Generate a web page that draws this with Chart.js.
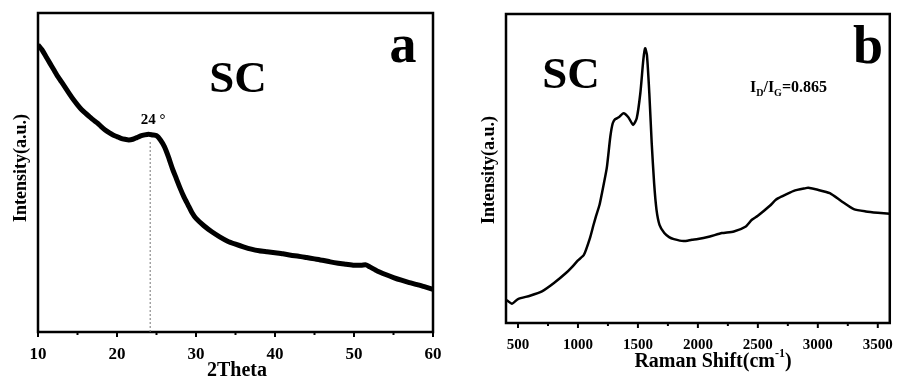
<!DOCTYPE html>
<html>
<head>
<meta charset="utf-8">
<script src="https://cdn.jsdelivr.net/npm/chart.js@4.4.0/dist/chart.umd.min.js"></script>
<style>
  html, body { margin: 0; padding: 0; background: #fff; }
  #wrap { position: relative; width: 898px; height: 378px; }
  canvas { position: absolute; top: 0; }
  #xrd { left: 0; }
  #raman { left: 449px; }
</style>
</head>
<body>
<div id="wrap">
  <canvas id="xrd" width="449" height="378"></canvas>
  <canvas id="raman" width="449" height="378"></canvas>
</div>
<script>
var SERIF = '"Liberation Serif", "Times New Roman", serif';

// panel a : XRD
var xrdTheta = [10, 10.5, 11, 11.5, 12, 12.5, 13, 13.5, 14, 14.5, 15, 15.5, 16, 16.5, 17, 17.5, 18, 18.5, 19, 19.5,
  20, 20.5, 21, 21.5, 22, 22.5, 23, 23.5, 24, 24.5, 25, 25.5, 26, 26.5, 27, 27.5, 28, 28.5, 29, 29.5,
  30, 31, 32, 33, 34, 35, 36, 37, 38, 39, 40, 41, 42, 43, 44, 45, 46, 47, 48, 49, 50, 51, 51.5, 52,
  53, 54, 55, 56, 57, 58, 59, 60];
var xrdIntensity = [860, 845, 825, 805, 785, 765, 748, 730, 712, 695, 680, 666, 655, 645, 635, 626, 615, 605, 597, 590,
  585, 580, 577, 575, 577, 582, 587, 590, 592, 590, 588, 575, 555, 525, 490, 460, 430, 403, 380, 357,
  340, 318, 300, 285, 272, 263, 255, 248, 243, 240, 237, 234, 230, 227, 223, 219, 215, 210, 206, 203, 200, 200, 201, 195,
  182, 172, 163, 155, 148, 142, 135, 128];
var xrdMajor = [10, 20, 30, 40, 50, 60];
var xrdMinor = [15, 25, 35, 45, 55];
var xrdPeak = 24.2;

// panel b : Raman
var ramanShift = [400, 450, 500, 600, 700, 800, 900, 950, 1000, 1050, 1100, 1130, 1150, 1180, 1200, 1240, 1270, 1290,
  1310, 1340, 1380, 1420, 1460, 1490, 1520, 1545, 1560, 1575, 1595, 1615, 1635, 1655, 1680, 1720, 1760, 1800,
  1880, 1950, 2000, 2100, 2200, 2300, 2400, 2450, 2500, 2600, 2650, 2700, 2800, 2900, 2920, 3000, 3100, 3200,
  3300, 3400, 3500, 3600];
var ramanIntensity = [70, 58, 72, 82, 95, 120, 150, 168, 188, 205, 255, 295, 320, 355, 390, 465, 560, 600,
  612, 618, 630, 618, 595, 615, 690, 790, 825, 805, 690, 540, 420, 340, 295, 270, 258, 252,
  246, 250, 252, 260, 270, 275, 290, 310, 322, 352, 370, 380, 397, 405, 406, 400, 390, 365,
  342, 335, 331, 328];
var ramanMajor = [500, 1000, 1500, 2000, 2500, 3000, 3500];
var ramanMinor = [750, 1250, 1750, 2250, 2750, 3250];

// frame, minor/major ticks and free text drawn over each panel
function panelPlugin(major, minor, extra) {
  return {
    id: 'panel',
    afterDraw: function(chart) {
      var ctx = chart.ctx, a = chart.chartArea, x = chart.scales.x;
      ctx.save();
      ctx.strokeStyle = '#000';
      ctx.lineWidth = 2.5;
      ctx.strokeRect(a.left, a.top, a.right - a.left, a.bottom - a.top);
      ctx.lineWidth = 2;
      major.forEach(function(v) {
        var px = x.getPixelForValue(v);
        ctx.beginPath(); ctx.moveTo(px, a.bottom); ctx.lineTo(px, a.bottom + 5); ctx.stroke();
      });
      minor.forEach(function(v) {
        var px = x.getPixelForValue(v);
        ctx.beginPath(); ctx.moveTo(px, a.bottom); ctx.lineTo(px, a.bottom + 3); ctx.stroke();
      });
      extra(ctx, chart);
      ctx.restore();
    }
  };
}

function text(ctx, s, x, y, size, align) {
  ctx.font = 'bold ' + size + 'px ' + SERIF;
  ctx.fillStyle = '#000';
  ctx.textAlign = align || 'center';
  ctx.textBaseline = 'alphabetic';
  ctx.fillText(s, x, y);
}

function yTitle(ctx, x, y) {
  ctx.save();
  ctx.translate(x, y);
  ctx.rotate(-Math.PI / 2);
  text(ctx, 'Intensity(a.u.)', 0, 0, 18);
  ctx.restore();
}

function makeChart(id, xs, ys, opt) {
  return new Chart(document.getElementById(id).getContext('2d'), {
    type: 'line',
    data: {
      datasets: [{
        data: xs.map(function(v, i) { return { x: v, y: ys[i] }; }),
        borderColor: '#000',
        borderWidth: opt.lw,
        pointRadius: 0,
        tension: 0.2,
        fill: false
      }]
    },
    options: {
      responsive: false,
      animation: false,
      events: [],
      layout: { padding: opt.pad },
      plugins: { legend: { display: false }, tooltip: { enabled: false } },
      scales: {
        x: {
          type: 'linear', min: opt.xmin, max: opt.xmax,
          grid: { display: false },
          border: { display: false },
          afterBuildTicks: function(s) { s.ticks = opt.major.map(function(v) { return { value: v }; }); },
          afterFit: function(s) { s.height = opt.xh; },
          ticks: { color: '#000', padding: opt.tpad, maxRotation: 0, autoSkip: false,
            callback: function(v) { return String(v); },
            font: { family: SERIF, size: opt.tsize, weight: 'bold' } }
        },
        y: { display: false, min: 0, max: opt.ymax }
      }
    },
    plugins: [panelPlugin(opt.major, opt.minor, opt.extra)]
  });
}

var XRD = makeChart('xrd', xrdTheta, xrdIntensity, {
  lw: 5, xmin: 10, xmax: 60, ymax: 955, major: xrdMajor, minor: xrdMinor,
  pad: { left: 38, right: 16, top: 13, bottom: 0 }, xh: 46, tpad: 4, tsize: 17,
  extra: function(ctx, chart) {
    var a = chart.chartArea, px = chart.scales.x.getPixelForValue(xrdPeak);
    ctx.strokeStyle = '#777';
    ctx.lineWidth = 1;
    ctx.setLineDash([2, 2]);
    ctx.beginPath(); ctx.moveTo(px, 142); ctx.lineTo(px, a.bottom); ctx.stroke();
    ctx.setLineDash([]);
    text(ctx, '24 \u00b0', 153, 124, 15);
    text(ctx, 'SC', 238, 92, 45);
    text(ctx, 'a', 403, 62, 54);
    text(ctx, '2Theta', 237, 376, 20);
    yTitle(ctx, 26, 168);
  }
});

var Raman = makeChart('raman', ramanShift, ramanIntensity, {
  lw: 2.5, xmin: 400, xmax: 3600, ymax: 928, major: ramanMajor, minor: ramanMinor,
  pad: { left: 57, right: 7, top: 14, bottom: 0 }, xh: 55, tpad: 5, tsize: 15,
  extra: function(ctx, chart) {
    text(ctx, 'SC', 122, 88, 45);
    text(ctx, 'b', 419, 63, 54);
    // I_D/I_G label with subscripts
    var x = 301, y = 92;
    ctx.font = 'bold 16px ' + SERIF; ctx.textAlign = 'left';
    ctx.fillText('I', x, y); x += ctx.measureText('I').width;
    ctx.font = 'bold 10px ' + SERIF; ctx.fillText('D', x, y + 4); x += ctx.measureText('D').width;
    ctx.font = 'bold 16px ' + SERIF; ctx.fillText('/I', x, y); x += ctx.measureText('/I').width;
    ctx.font = 'bold 10px ' + SERIF; ctx.fillText('G', x, y + 4); x += ctx.measureText('G').width;
    ctx.font = 'bold 16px ' + SERIF; ctx.fillText('=0.865', x, y);
    // axis title with superscript
    var t = 'Raman Shift(cm', sup = '-1', end = ')';
    ctx.font = 'bold 20px ' + SERIF;
    var w1 = ctx.measureText(t).width, w3 = ctx.measureText(end).width;
    ctx.font = 'bold 12px ' + SERIF;
    var w2 = ctx.measureText(sup).width;
    var sx = 264 - (w1 + w2 + w3) / 2;
    text(ctx, t, sx, 367, 20, 'left');
    text(ctx, sup, sx + w1, 357, 12, 'left');
    text(ctx, end, sx + w1 + w2, 367, 20, 'left');
    yTitle(ctx, 45, 170);
  }
});
</script>
</body>
</html>
